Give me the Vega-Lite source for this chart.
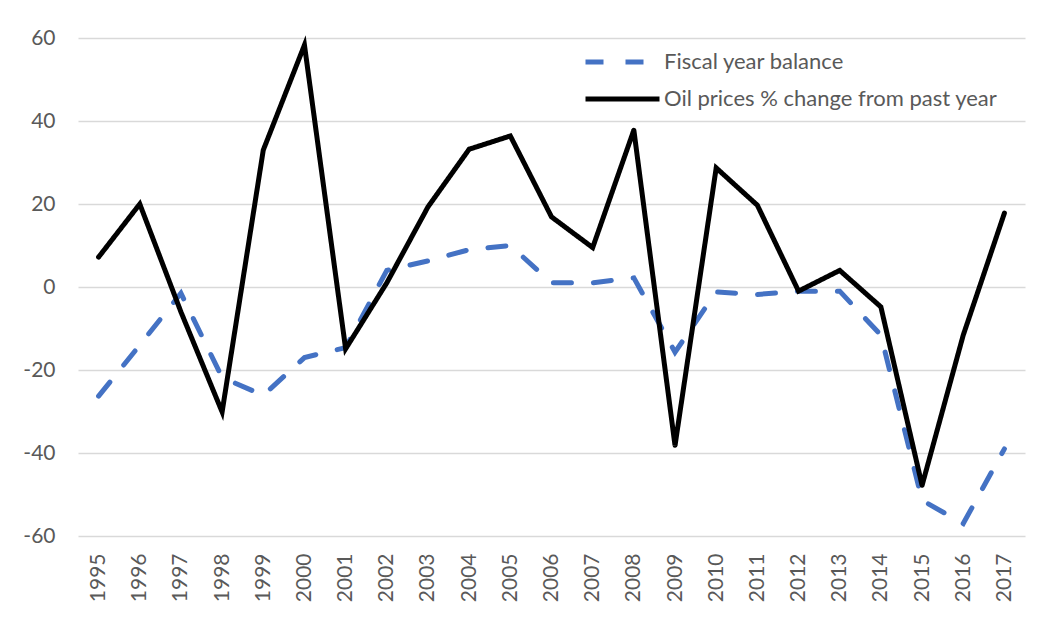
{
  "$schema": "https://vega.github.io/schema/vega-lite/v6.json",
  "width": 947,
  "height": 498,
  "autosize": {"type": "none"},
  "padding": {"left": 78, "top": 38, "right": 20, "bottom": 92},
  "background": "white",
  "config": {
    "view": {"stroke": null},
    "font": "Lato",
    "axis": {"labelFont": "Lato", "labelColor": "#595959", "labelFontSize": 21}
  },
  "data": {
    "values": [
      {"year": "1995", "series": "Fiscal year balance", "value": -26.3},
      {"year": "1996", "series": "Fiscal year balance", "value": -14},
      {"year": "1997", "series": "Fiscal year balance", "value": -1.5},
      {"year": "1998", "series": "Fiscal year balance", "value": -21.8},
      {"year": "1999", "series": "Fiscal year balance", "value": -26.1},
      {"year": "2000", "series": "Fiscal year balance", "value": -17},
      {"year": "2001", "series": "Fiscal year balance", "value": -14.6},
      {"year": "2002", "series": "Fiscal year balance", "value": 4},
      {"year": "2003", "series": "Fiscal year balance", "value": 6.3},
      {"year": "2004", "series": "Fiscal year balance", "value": 9},
      {"year": "2005", "series": "Fiscal year balance", "value": 10},
      {"year": "2006", "series": "Fiscal year balance", "value": 1},
      {"year": "2007", "series": "Fiscal year balance", "value": 1},
      {"year": "2008", "series": "Fiscal year balance", "value": 2.2},
      {"year": "2009", "series": "Fiscal year balance", "value": -15.7},
      {"year": "2010", "series": "Fiscal year balance", "value": -1.2},
      {"year": "2011", "series": "Fiscal year balance", "value": -1.8},
      {"year": "2012", "series": "Fiscal year balance", "value": -1},
      {"year": "2013", "series": "Fiscal year balance", "value": -1},
      {"year": "2014", "series": "Fiscal year balance", "value": -11.6},
      {"year": "2015", "series": "Fiscal year balance", "value": -51.4},
      {"year": "2016", "series": "Fiscal year balance", "value": -57},
      {"year": "2017", "series": "Fiscal year balance", "value": -39},
      {"year": "1995", "series": "Oil prices % change from past year", "value": 7.2},
      {"year": "1996", "series": "Oil prices % change from past year", "value": 20},
      {"year": "1997", "series": "Oil prices % change from past year", "value": -6},
      {"year": "1998", "series": "Oil prices % change from past year", "value": -30.1},
      {"year": "1999", "series": "Oil prices % change from past year", "value": 33},
      {"year": "2000", "series": "Oil prices % change from past year", "value": 58.3},
      {"year": "2001", "series": "Oil prices % change from past year", "value": -14.9},
      {"year": "2002", "series": "Oil prices % change from past year", "value": 1},
      {"year": "2003", "series": "Oil prices % change from past year", "value": 19.3},
      {"year": "2004", "series": "Oil prices % change from past year", "value": 33.2},
      {"year": "2005", "series": "Oil prices % change from past year", "value": 36.4},
      {"year": "2006", "series": "Oil prices % change from past year", "value": 16.9},
      {"year": "2007", "series": "Oil prices % change from past year", "value": 9.5},
      {"year": "2008", "series": "Oil prices % change from past year", "value": 37.8},
      {"year": "2009", "series": "Oil prices % change from past year", "value": -38.2},
      {"year": "2010", "series": "Oil prices % change from past year", "value": 28.7},
      {"year": "2011", "series": "Oil prices % change from past year", "value": 19.7},
      {"year": "2012", "series": "Oil prices % change from past year", "value": -1},
      {"year": "2013", "series": "Oil prices % change from past year", "value": 4},
      {"year": "2014", "series": "Oil prices % change from past year", "value": -4.8},
      {"year": "2015", "series": "Oil prices % change from past year", "value": -47.8},
      {"year": "2016", "series": "Oil prices % change from past year", "value": -11.6},
      {"year": "2017", "series": "Oil prices % change from past year", "value": 17.8}
    ]
  },
  "mark": {"type": "line", "strokeWidth": 5, "strokeCap": "round", "strokeJoin": "miter"},
  "encoding": {
    "x": {
      "field": "year",
      "type": "ordinal",
      "scale": {"type": "point", "padding": 0.5},
      "axis": {
        "title": null,
        "labelAngle": -90,
        "labelPadding": 17,
        "ticks": false,
        "domain": false,
        "grid": false
      }
    },
    "y": {
      "field": "value",
      "type": "quantitative",
      "scale": {"domain": [-60, 60], "nice": false, "zero": false},
      "axis": {
        "title": null,
        "values": [-60, -40, -20, 0, 20, 40, 60],
        "labelExpr": "'' + datum.value",
        "ticks": false,
        "domain": false,
        "grid": true,
        "gridColor": "#d9d9d9",
        "gridWidth": 1.5,
        "labelPadding": 23
      }
    },
    "color": {
      "field": "series",
      "type": "nominal",
      "scale": {
        "domain": ["Fiscal year balance", "Oil prices % change from past year"],
        "range": ["#4472C4", "#000000"]
      },
      "legend": {
        "title": null,
        "orient": "none",
        "legendX": 505,
        "legendY": 3,
        "symbolType": "M-1,0H3",
        "symbolSize": 1369,
        "symbolStrokeWidth": 5,
        "labelFontSize": 22,
        "labelColor": "#595959",
        "labelFont": "Lato",
        "labelOffset": 39,
        "labelLimit": 500,
        "rowPadding": 5,
        "padding": 0
      }
    },
    "strokeDash": {
      "field": "series",
      "type": "nominal",
      "scale": {
        "domain": ["Fiscal year balance", "Oil prices % change from past year"],
        "range": [[18, 22], [1, 0]]
      },
      "legend": null
    }
  }
}
